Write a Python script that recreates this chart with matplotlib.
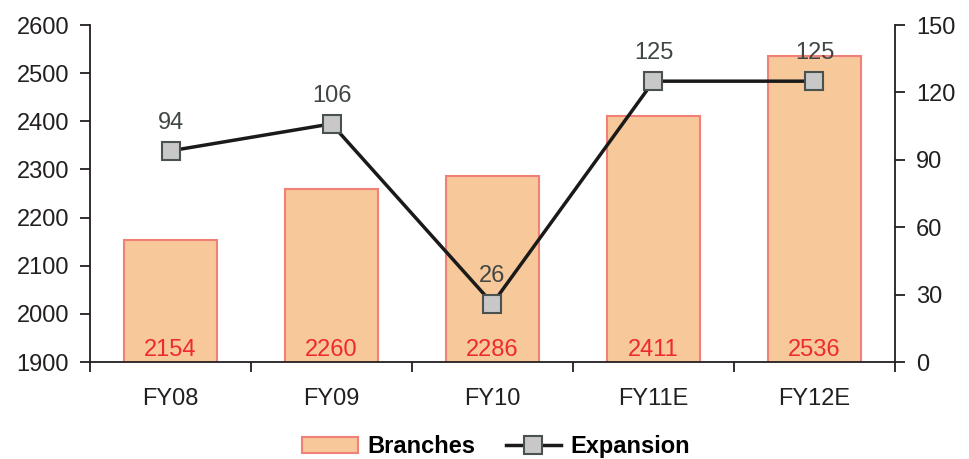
import matplotlib.pyplot as plt
import numpy as np

plt.rcParams['font.family'] = ['Liberation Sans', 'DejaVu Sans']

# données
annees = ['FY08', 'FY09', 'FY10', 'FY11E', 'FY12E']
agences = [2154, 2260, 2286, 2411, 2536]
expansion = [94, 106, 26, 125, 125]

couleur_barre = '#F7C899'
bord_barre = '#F08078'
texte = '#231F20'
taille = 17

fig = plt.figure(figsize=(9.69, 4.59), dpi=100)
ax = fig.add_axes([0.0929, 0.2113, 0.8307, 0.7342])
ax2 = ax.twinx()

X = np.arange(len(annees))
ax.bar(X, agences, width=0.58, bottom=0, color=couleur_barre,
       edgecolor=bord_barre, linewidth=1.5, label='Branches', zorder=2)
ax.set_ylim(1900, 2600)
ax.set_yticks(np.arange(1900, 2601, 100))
ax.set_xlim(-0.5, len(annees) - 0.5)

for i in range(len(annees)):
    ax.annotate(str(agences[i]), xy=(X[i], 1900), xytext=(0, 6),
                textcoords='offset pixels', ha='center', va='baseline',
                fontsize=taille, color='#EE2A2A', zorder=3)

ax2.plot(X, expansion, color='#1A1A1A', linewidth=2.5, marker='s',
         markersize=13, markerfacecolor='#C8C8C8', markeredgecolor='#4A524F',
         markeredgewidth=1.5, label='Expansion', zorder=4)
ax2.set_ylim(0, 150)
ax2.set_yticks(np.arange(0, 151, 30))
for i in range(len(annees)):
    ax2.annotate(str(expansion[i]), xy=(X[i], expansion[i]), xytext=(0, 22),
                 textcoords='offset pixels', ha='center', va='baseline',
                 fontsize=taille, color='#404545')

# axes
for a in (ax, ax2):
    a.spines['top'].set_visible(False)
    for s in ('left', 'right', 'bottom'):
        a.spines[s].set_color(texte)
        a.spines[s].set_linewidth(1.3)
ax.spines['right'].set_visible(False)
ax2.spines['left'].set_visible(False)
ax2.spines['bottom'].set_visible(False)

ax.set_xticks(X)
ax.set_xticklabels(annees)
ax.set_xticks(np.arange(-0.5, len(annees)), minor=True)
ax.tick_params(axis='x', which='major', length=0, pad=19, labelsize=taille, labelcolor=texte)
ax.tick_params(axis='x', which='minor', length=7, width=1.3, color=texte, direction='out')
ax.tick_params(axis='y', length=7, width=1.3, color=texte, labelsize=taille,
               labelcolor=texte, pad=8)
ax2.tick_params(axis='y', length=7, width=1.3, color=texte, labelsize=taille,
                labelcolor=texte, pad=8)
ax.set_zorder(ax2.get_zorder() - 1)
ax2.patch.set_visible(False)

h1, l1 = ax.get_legend_handles_labels()
h2, l2 = ax2.get_legend_handles_labels()
fig.legend(h1 + h2, l1 + l2, loc='lower center', bbox_to_anchor=(0.512, -0.045),
           ncol=2, frameon=False, prop={'weight': 'bold', 'size': taille},
           handlelength=2.35, columnspacing=1.3, handletextpad=0.4)

plt.savefig('out.png', dpi=100)
